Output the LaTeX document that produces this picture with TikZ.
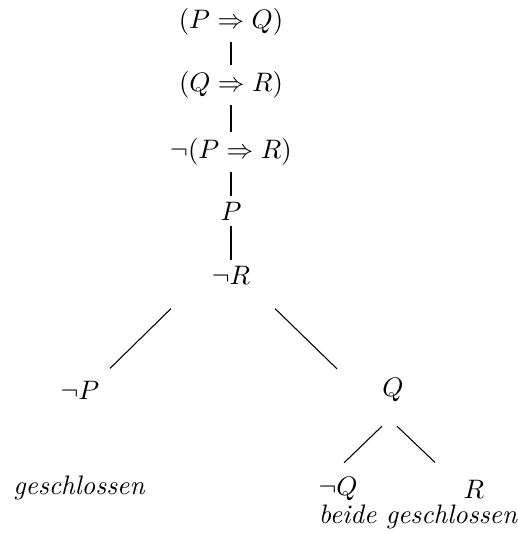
\documentclass[tikz,border=0pt]{standalone}
\usepackage{tikz}

\begin{document}
\begin{tikzpicture}[
    x=0.01316cm, y=-0.01316cm,
    fml/.style={inner sep=3.33pt},
    note/.style={inner sep=0pt, font=\itshape},
    branch/.style={line width=0.4pt, draw=black},
    trunk/.style={branch, shorten <=-1.2pt, shorten >=-1.2pt},
  ]
  \useasboundingbox (0,0) rectangle (518,534);

  % Trunk of the tableau
  \def\xtrunk{231}
  \node[fml] (pq)  at (\xtrunk,22)  {$(P \Rightarrow Q)$};
  \node[fml] (qr)  at (\xtrunk,85)  {$(Q \Rightarrow R)$};
  \node[fml] (npr) at (\xtrunk,152) {$\neg(P \Rightarrow R)$};
  \node[fml] (p)   at (\xtrunk,211) {$P$};
  \node[fml] (nr)  at (\xtrunk,275) {$\neg R$};

  % First split
  \node[fml] (np) at (80,390)  {$\neg P$};
  \node[fml] (q)  at (393,390) {$Q$};

  % Second split under Q
  \node[fml] (nq) at (338,489) {$\neg Q$};
  \node[fml] (r)  at (474,489) {$R$};

  % Closing remarks
  \node[note] (closedl) at (79,488)    {geschlossen};
  \node[note] (closedr) at (418,516.5) {beide geschlossen};

  % Vertical links
  \foreach \a/\b in {pq/qr, qr/npr, npr/p, p/nr} \draw[trunk] (\a) -- (\b);

  % Branches
  \draw[branch] ([shift={(-60,15)}]nr.south) -- ([shift={(30,-3)}]np.north);
  \draw[branch] ([shift={(44,15)}]nr.south) -- ([shift={(-56,0)}]q.north);
  \draw[branch] ([shift={(-11,15)}]q.south) -- ([shift={(6,-5)}]nq.north);
  \draw[branch] ([shift={(4,15)}]q.south) -- ([shift={(-39,-8)}]r.north);

\end{tikzpicture}
\end{document}
